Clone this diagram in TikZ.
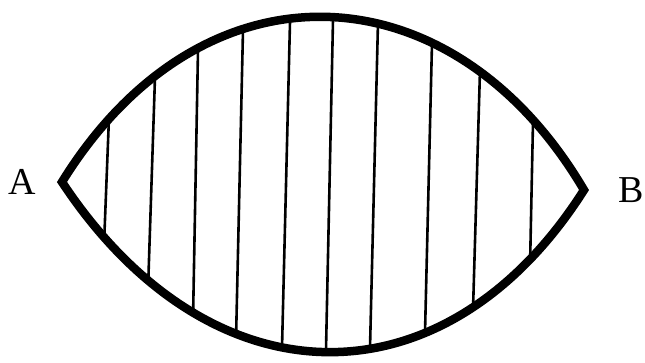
\documentclass[tikz,border=0pt]{standalone}
\usepackage{fontspec}
\setmainfont{Liberation Serif}

\begin{document}
\begin{tikzpicture}[x=1pt, y=-1pt,
    rim/.style={line width=8.5pt, line join=miter},
    hatch/.style={line width=2.6pt, shorten <=-15pt, shorten >=-15pt},
    tip/.style={font=\fontsize{38}{42}\selectfont, inner sep=0pt}]
    \useasboundingbox (0,0) rectangle (645,363);

    % lens tips
    \coordinate (A) at (62,182);
    \coordinate (B) at (584,190);

    % vertical strokes, clipped to the lens
    \begin{scope}
        \clip (A) .. controls (203,-46) and (453,-33) .. (B)
                  .. controls (445,409) and (210,406) .. cycle;
        \foreach \xt/\yt/\xb/\yb in {109/117/104/245, 155/77/148/290, 198/50/193/320,
            243/30/236/340, 290/22/282/348, 333/20/326/350, 378/22/370/348,
            432/43/425/333, 480/70/473/310, 533/122/530/267}
            \draw[hatch] (\xt,\yt) -- (\xb,\yb);
    \end{scope}

    \draw[rim] (A) .. controls (203,-46) and (453,-33) .. (B)
               .. controls (445,409) and (210,406) .. cycle;

    \node[tip] (labA) at (22,182) {A};
    \node[tip] (labB) at (631,190) {B};
\end{tikzpicture}
\end{document}
